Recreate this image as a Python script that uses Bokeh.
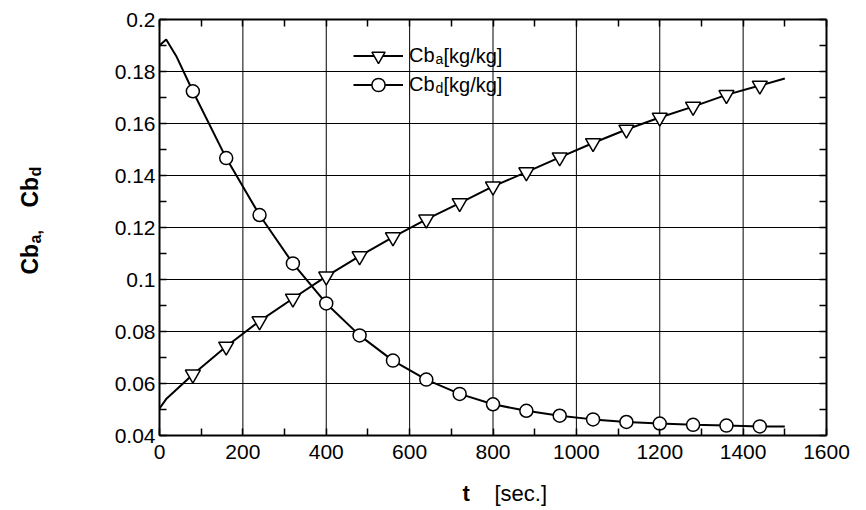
import math
from bokeh.plotting import figure
from bokeh.models import (FixedTicker, NumeralTickFormatter, LinearAxis, Label,
                          Legend, LegendItem, Range1d, CustomLabelingPolicy)
from bokeh.embed import file_html
from bokeh.resources import INLINE

# ---------------- data ----------------
t_a = [0, 16, 80, 160, 240, 320, 400, 480, 560, 640, 720, 800, 880, 960,
       1040, 1120, 1200, 1280, 1360, 1440, 1500]
cb_a = [0.0504, 0.0540, 0.0635, 0.0742, 0.0840, 0.0927, 0.1012, 0.1090,
        0.1163, 0.1231, 0.1294, 0.1358, 0.1413, 0.1470, 0.1525, 0.1577,
        0.1623, 0.1665, 0.1710, 0.1746, 0.1773]

t_d = [0, 16, 40, 80, 160, 240, 320, 400, 480, 560, 640, 720, 800, 880,
       960, 1040, 1120, 1200, 1280, 1360, 1440, 1500]
cb_d = [0.1900, 0.1923, 0.1860, 0.1724, 0.1467, 0.1248, 0.1062, 0.0908,
        0.0785, 0.0688, 0.0615, 0.0560, 0.0520, 0.0495, 0.0476, 0.0462,
        0.0452, 0.0446, 0.0441, 0.0438, 0.0435, 0.0435]

marker_t = [80, 160, 240, 320, 400, 480, 560, 640, 720, 800, 880, 960,
            1040, 1120, 1200, 1280, 1360, 1440]

x_ticks = [0, 200, 400, 600, 800, 1000, 1200, 1400, 1600]
y_ticks = [0.04, 0.06, 0.08, 0.10, 0.12, 0.14, 0.16, 0.18, 0.20]

# ---------------- layout (pixels) ----------------
FONT = "Liberation Sans"
W, H = 850, 506
PL, PT, PR, PB = 159, 19, 826, 435      # plot-box edges in canvas px

xmin, xmax = x_ticks[0], x_ticks[-1]
ymin, ymax = y_ticks[0], y_ticks[-1]
sx = (PR - PL) / (xmax - xmin)
sy = (PB - PT) / (ymax - ymin)
x_range = Range1d(xmin - PL / sx, xmax + (W - PR) / sx)
y_range = Range1d(ymin - (H - PB) / sy, ymax + PT / sy)

mk_a = [cb_a[t_a.index(t)] for t in marker_t]
mk_d = [cb_d[t_d.index(t)] for t in marker_t]
x_minor = [(a + b) / 2 for a, b in zip(x_ticks[:-1], x_ticks[1:])]
y_minor = [(a + b) / 2 for a, b in zip(y_ticks[:-1], y_ticks[1:])]

p = figure(width=W, height=H, x_range=x_range, y_range=y_range,
           output_backend="svg", toolbar_location=None, min_border=0)
p.background_fill_color = "white"
p.border_fill_color = "white"
p.outline_line_color = None
p.xgrid.visible = False
p.ygrid.visible = False

bottom = p.below[0]
left = p.left[0]
bottom.ticker = FixedTicker(ticks=x_ticks, minor_ticks=x_minor)
left.ticker = FixedTicker(ticks=y_ticks, minor_ticks=y_minor)
left.formatter = NumeralTickFormatter(format="0.[00]")

top = LinearAxis(ticker=FixedTicker(ticks=x_ticks, minor_ticks=x_minor),
                 major_label_policy=CustomLabelingPolicy(code="return []"))
right = LinearAxis(ticker=FixedTicker(ticks=y_ticks, minor_ticks=y_minor),
                   major_label_policy=CustomLabelingPolicy(code="return []"))
p.add_layout(top, "above")
p.add_layout(right, "right")

bottom.fixed_location = ymin
top.fixed_location = ymax
left.fixed_location = xmin
right.fixed_location = xmax
for ax in (bottom, top):
    ax.bounds = (xmin, xmax)
for ax in (left, right):
    ax.bounds = (ymin, ymax)

for ax in [bottom, left, top, right]:
    ax.axis_line_color = "black"
    ax.axis_line_width = 2
    ax.major_tick_in = 7
    ax.major_tick_out = 0
    ax.minor_tick_in = 7
    ax.minor_tick_out = 0
    ax.major_tick_line_color = "black"
    ax.minor_tick_line_color = "black"
    ax.major_tick_line_width = 1.5
    ax.minor_tick_line_width = 1.5
    ax.major_label_text_font = FONT
    ax.major_label_text_color = "black"
    ax.major_label_text_font_size = "21px"

top.major_label_standoff = 0
right.major_label_standoff = 0
bottom.major_label_standoff = 9
left.major_label_standoff = 4

# ---------------- grid (from the tick lists) ----------------
gx = x_ticks[1:-1]
gy = y_ticks[1:-1]
p.segment(x0=gx, y0=[ymin] * len(gx), x1=gx, y1=[ymax] * len(gx),
          line_color="black", line_width=1)
p.segment(x0=[xmin] * len(gy), y0=gy, x1=[xmax] * len(gy), y1=gy,
          line_color="black", line_width=1)

# ---------------- series ----------------
la = p.line(t_a, cb_a, line_color="black", line_width=2)
sa = p.scatter(marker_t, mk_a, marker="inverted_triangle", size=15,
               fill_color="white", line_color="black", line_width=1.5)
ld = p.line(t_d, cb_d, line_color="black", line_width=2)
sd = p.scatter(marker_t, mk_d, marker="circle", size=13,
               fill_color="white", line_color="black", line_width=1.5)

# ---------------- legend ----------------
LX = 353
ROWS = [55, 84]
for rs, cy in zip([[la, sa], [ld, sd]], ROWS):
    leg = Legend(items=[LegendItem(label="Cb", renderers=rs)],
                 location=(LX, H - (cy + 16.5)),
                 glyph_width=50, glyph_height=33, padding=0, margin=0,
                 spacing=0, border_line_color=None, background_fill_alpha=0,
                 label_text_font=FONT, label_text_font_size="20px",
                 label_text_color="black", label_standoff=6,
                 label_text_baseline="alphabetic", label_height=33)
    p.add_layout(leg)


def txt(s, px, py, size, bold=False, angle=0.0):
    p.add_layout(Label(x=px, y=H - py, x_units="screen", y_units="screen",
                       text=s, text_font=FONT, text_font_size=f"{size}px",
                       text_font_style="bold" if bold else "normal",
                       text_color="black", text_align="left",
                       text_baseline="alphabetic", angle=angle))


for cy, sub in zip(ROWS, ["a", "d"]):
    txt(sub, 435, cy + 3, 14)
    txt("[kg/kg]", 443, cy, 20)

# x axis title
txt("t", 462, 493, 22, bold=True)
txt("[sec.]", 494, 493, 22)

# y axis title (rotated)
ang = math.pi / 2
txt("Cb", 29, 274, 23, bold=True, angle=ang)
txt("a,", 35, 243, 16, bold=True, angle=ang)
txt("Cb", 29, 207, 23, bold=True, angle=ang)
txt("d", 35, 176, 16, bold=True, angle=ang)

open("out.html", "w").write(file_html(p, INLINE))
